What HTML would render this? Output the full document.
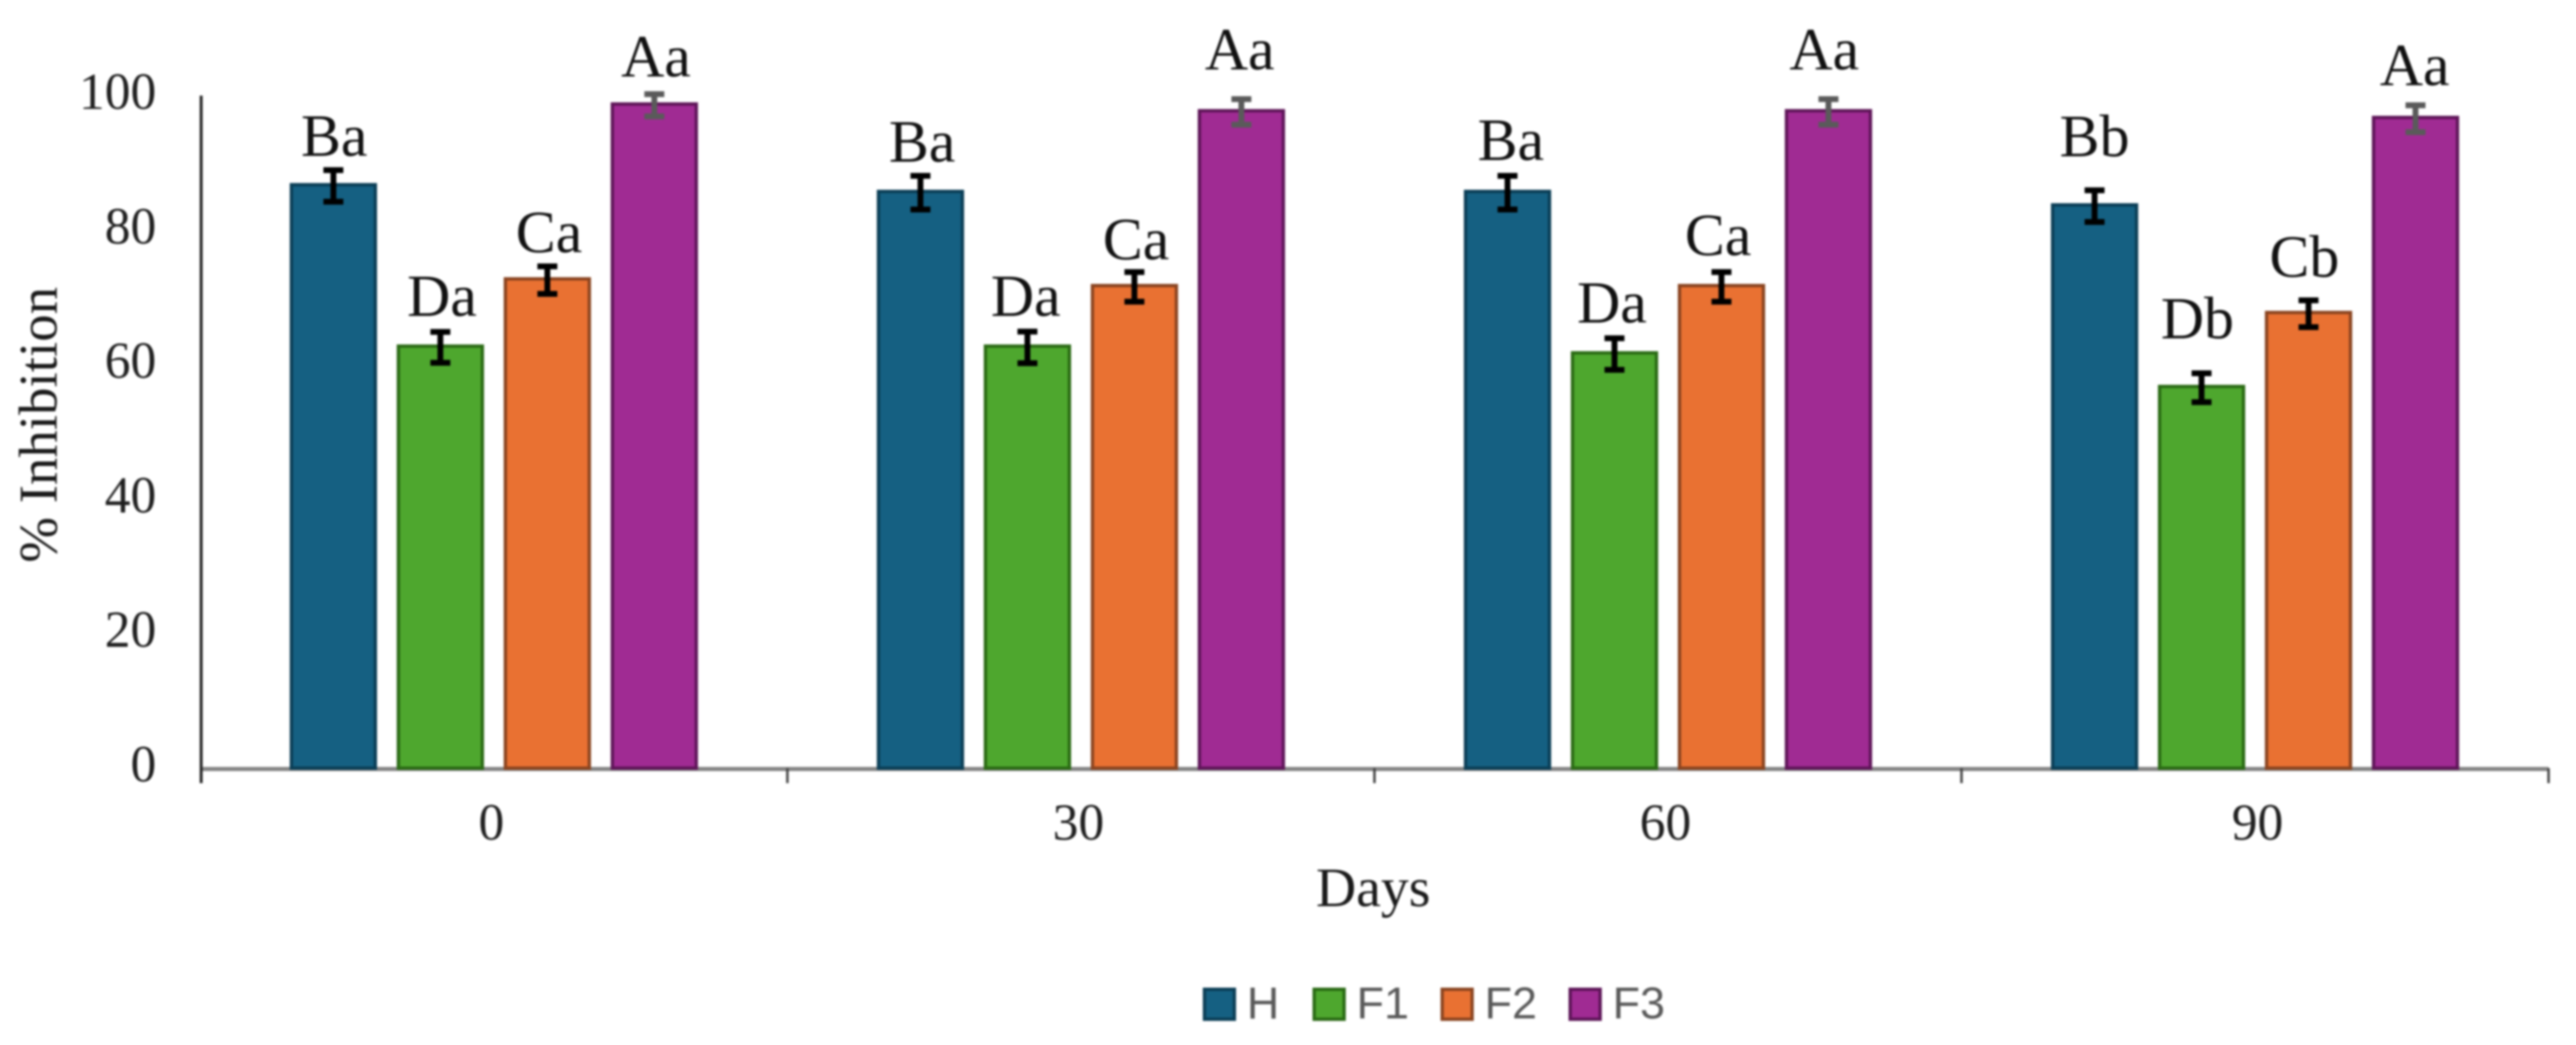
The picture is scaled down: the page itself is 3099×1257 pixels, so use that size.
<!DOCTYPE html>
<html lang="en">
<head>
<meta charset="utf-8">
<title>% Inhibition by Days</title>
<style>
html,body{margin:0;padding:0;background:#fff;}
#chart{display:block;width:3099px;height:1257px;filter:blur(1.2px);}
.serif{font-family:"Liberation Serif",serif;}
.sans{font-family:"Liberation Sans",sans-serif;}
</style>
</head>
<body>
<svg id="chart" xmlns="http://www.w3.org/2000/svg" width="3099" height="1257" viewBox="0 0 3099 1257">
  <rect x="0" y="0" width="3099" height="1257" fill="#ffffff"/>
  <g id="axes"></g>
  <g id="bars"></g>
  <g id="labels"></g>
  <text class="serif" transform="translate(68 511) rotate(-90)" text-anchor="middle" font-size="66" fill="#1a1a1a">% Inhibition</text>
  <text class="serif" x="1652" y="1090" text-anchor="middle" font-size="67" fill="#1a1a1a">Days</text>
  <g id="legend"></g>
</svg>
<script>
// Chart data
const categories = ['0', '30', '60', '90'];
const seriesNames = ['H', 'F1', 'F2', 'F3'];
const valuesH = [87, 86, 86, 84];
const valuesF1 = [63, 63, 62, 57];
const valuesF2 = [73, 72, 72, 68];
const valuesF3 = [99, 98, 98, 97];
const errorsH = [2.35, 2.5, 2.5, 2.35];
const errorsF1 = [2.3, 2.35, 2.35, 2.15];
const errorsF2 = [2.05, 2.2, 2.2, 2.0];
const errorsF3 = [1.65, 1.9, 1.9, 2.0];
const lettersH = ['Ba', 'Ba', 'Ba', 'Bb'];
const lettersF1 = ['Da', 'Da', 'Da', 'Db'];
const lettersF2 = ['Ca', 'Ca', 'Ca', 'Cb'];
const lettersF3 = ['Aa', 'Aa', 'Aa', 'Aa'];
const yTicks = [0, 20, 40, 60, 80, 100];

// Layout
const NS = 'http://www.w3.org/2000/svg';
const plot = { left: 241, right: 3066, bottom: 924, top: 115, tickBottom: 942 };
const barWidth = 105;
const barStep = 128.7;
const errorDrop = 3.5;
const fills = ['#156082', '#4EA72E', '#E97132', '#A02B93'];
const strokes = ['#0b3e56', '#2a6a14', '#8a4420', '#5e1558'];
const errorColors = ['#000000', '#000000', '#000000', '#5a5a5a'];
// Hand placement of the letter annotations, relative to each error bar
const labelGapsH = [17, 17, 19, 41];
const labelGapsF1 = [19, 19, 19, 42];
const labelGapsF2 = [17, 15, 20, 28];
const labelGapsF3 = [21, 36, 36, 24];
const labelNudgeH = [1, 2, 4, 0];
const labelNudgeF1 = [2, -2, -3, -5];
const labelNudgeF2 = [2, 2, -4, -5];
const labelNudgeF3 = [2, -2, -5, -1];
const categoryNudge = [-3, -3, -3, 3];

const seriesValues = [valuesH, valuesF1, valuesF2, valuesF3];
const seriesErrors = [errorsH, errorsF1, errorsF2, errorsF3];
const seriesLetters = [lettersH, lettersF1, lettersF2, lettersF3];
const seriesGaps = [labelGapsH, labelGapsF1, labelGapsF2, labelGapsF3];
const seriesNudges = [labelNudgeH, labelNudgeF1, labelNudgeF2, labelNudgeF3];

function yScale(v) { return plot.bottom - (plot.bottom - plot.top) * v / 100; }
function groupEdge(i) { return plot.left + (plot.right - plot.left) * i / categories.length; }
function groupCenter(i) { return (groupEdge(i) + groupEdge(i + 1)) / 2; }
function barCenter(g, s) { return groupCenter(g) + (s - (seriesNames.length - 1) / 2) * barStep; }

function make(tag, attrs, parent, text) {
  const el = document.createElementNS(NS, tag);
  for (const k in attrs) el.setAttribute(k, attrs[k]);
  if (text !== undefined) el.textContent = text;
  parent.appendChild(el);
  return el;
}

const axes = document.getElementById('axes');
const bars = document.getElementById('bars');
const labels = document.getElementById('labels');
const legend = document.getElementById('legend');

// Axes
const xLine = make('line', { x1: plot.left, x2: plot.right, y1: plot.bottom + 1, y2: plot.bottom + 1, stroke: '#858585', 'stroke-width': 5 }, axes);


const yLine = make('line', { x1: plot.left + 1, x2: plot.left + 1, y1: plot.top, y2: plot.tickBottom, stroke: '#222', 'stroke-width': 3.5 }, axes);



yTicks.forEach(function (t) {
  const tickText = make('text', { x: 188, y: yScale(t) + 16, 'text-anchor': 'end', 'font-size': 62, fill: '#1f1f1f', class: 'serif' }, axes, String(t));
  
  
});

for (let i = 1; i <= categories.length; i++) {
  const tick = make('line', { x1: groupEdge(i), x2: groupEdge(i), y1: plot.bottom, y2: plot.tickBottom, stroke: '#444', 'stroke-width': 3 }, axes);
  
  
}

categories.forEach(function (c, i) {
  const catText = make('text', { x: groupCenter(i) + categoryNudge[i], y: 1010, 'text-anchor': 'middle', 'font-size': 62, fill: '#1f1f1f', class: 'serif' }, axes, c);
  
  
});

// Bars, error bars and letters
categories.forEach(function (c, g) {
  seriesNames.forEach(function (name, s) {
    const v = seriesValues[s][g];
    const e = seriesErrors[s][g];
    const cx = barCenter(g, s);
    const top = yScale(v);

    const bar = make('rect', { x: cx - barWidth / 2 + 2, y: top + 2, width: barWidth - 4, height: plot.bottom - top - 2, fill: fills[s], stroke: strokes[s], 'stroke-width': 4 }, bars);
    
    

    const hi = yScale(v + e) + errorDrop;
    const lo = yScale(v - e) + errorDrop;
    const err = make('path', { d: 'M' + (cx - 12) + ' ' + hi + 'H' + (cx + 12) + 'M' + cx + ' ' + hi + 'V' + lo + 'M' + (cx - 12) + ' ' + lo + 'H' + (cx + 12), fill: 'none', stroke: errorColors[s], 'stroke-width': 7 }, bars);
    
    

    const letter = make('text', { x: cx + seriesNudges[s][g], y: hi - seriesGaps[s][g], 'text-anchor': 'middle', 'font-size': 72, fill: '#111111', class: 'serif' }, labels, seriesLetters[s][g]);
    
    
  });
});

// Legend
const legendStart = 1447;
const legendSteps = [0, 132, 286, 440];
seriesNames.forEach(function (name, s) {
  const x = legendStart + legendSteps[s];
  const swatch = make('rect', { x: x + 2, y: 1190, width: 36, height: 36, fill: fills[s], stroke: strokes[s], 'stroke-width': 4 }, legend);
  
  
  const label = make('text', { x: x + 53, y: 1225, 'font-size': 54, fill: '#595959', class: 'sans' }, legend, name);
  
  
});
</script>
</body>
</html>
